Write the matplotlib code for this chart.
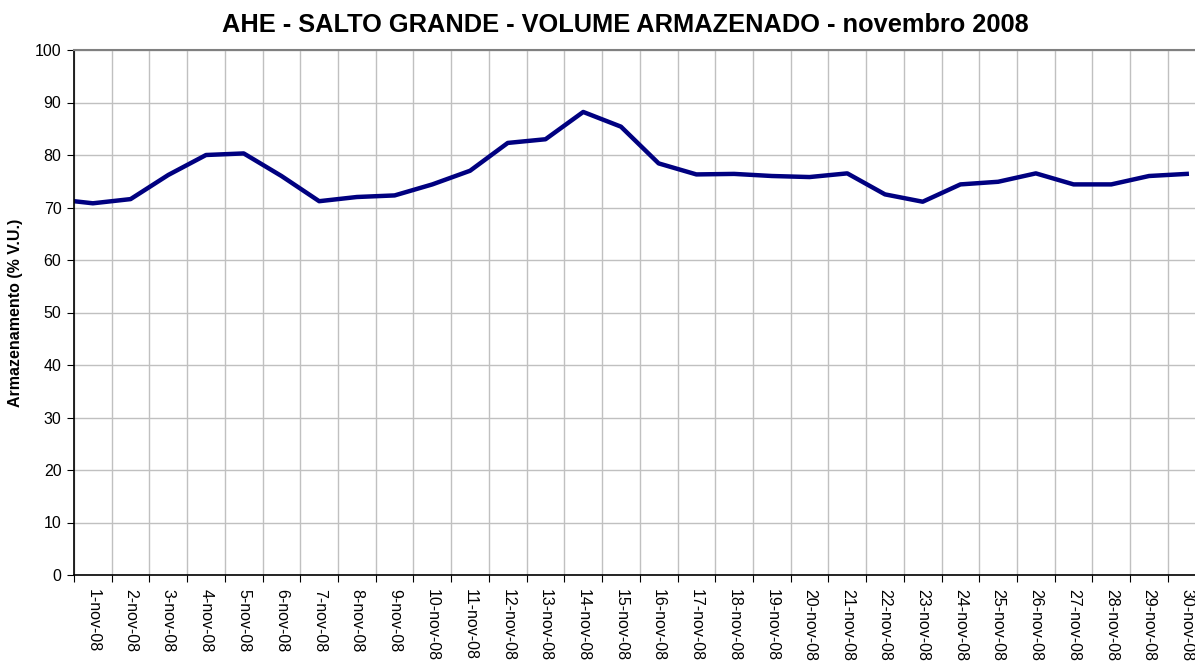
import matplotlib
matplotlib.use("Agg")
import matplotlib.pyplot as plt
import numpy as np

plt.rcParams['font.family'] = ['Liberation Sans', 'DejaVu Sans']

# 31-oct (leading point, mostly hidden left of the axis) + 1..30 nov
days = list(range(0, 31))
values = [71.6, 70.8, 71.6, 76.2, 80.0, 80.3, 76.0, 71.2, 72.0, 72.3, 74.4,
          77.0, 82.3, 83.0, 88.2, 85.4, 78.4, 76.3, 76.4, 76.0, 75.8,
          76.5, 72.5, 71.1, 74.4, 74.9, 76.5, 74.4, 74.4, 76.0, 76.4]
tick_labels = [f"{d}-nov-08" for d in range(1, 31)]
title = "AHE - SALTO GRANDE - VOLUME ARMAZENADO - novembro 2008"
ylabel = "Armazenamento (% V.U.)"

fig = plt.figure(figsize=(11.95, 6.62), dpi=100)
ax = fig.add_axes([74/1195, 87/662, 1131.6/1195, 525/662])

ax.plot(days, values, color='#000080', lw=3.2, solid_joinstyle='round', clip_on=True)

ax.set_xlim(0.5, 30.5)
ax.set_ylim(0, 100)
ax.set_yticks(np.arange(0, 101, 10))
ax.set_xticks(np.arange(0.5, 31, 1))
ax.set_xticklabels([])
ax.set_xticks(np.arange(1, 31), minor=True)
ax.set_xticklabels(tick_labels, minor=True, rotation=270, fontsize=11.5)
ax.tick_params(axis='x', which='minor', length=0, pad=10)
ax.tick_params(axis='x', which='major', length=5, direction='out', color='black')
ax.tick_params(axis='y', length=5, direction='out', labelsize=11.5, pad=4)

ax.grid(True, which='major', color='#c0c0c0', lw=1)
ax.set_axisbelow(True)
for s in ['left', 'bottom']:
    ax.spines[s].set_color('black')
    ax.spines[s].set_linewidth(1.2)
ax.spines['top'].set_color('#808080')
ax.spines['top'].set_linewidth(1.5)
ax.spines['right'].set_visible(False)

ax.set_ylabel(ylabel, fontsize=11.5, fontweight='bold', labelpad=8.5)
fig.text(625/1195, 1 - 32/662, title, ha='center', va='baseline', fontsize=18.3, fontweight='bold')

fig.savefig('out.png', dpi=100)
